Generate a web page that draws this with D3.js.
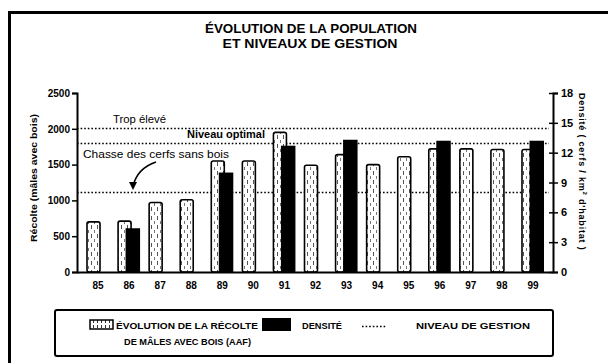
<!DOCTYPE html>
<html>
<head>
<meta charset="utf-8">
<script src="https://cdn.jsdelivr.net/npm/d3@7/dist/d3.min.js"></script>
<style>
  html, body { margin: 0; padding: 0; background: #fff; }
  svg { display: block; }
  text { font-family: "Liberation Sans", Arial, sans-serif; fill: #000; }
</style>
</head>
<body>
<svg id="chart" width="608" height="363"></svg>
<script>
// Years (labels on the x axis)
const years = ["85","86","87","88","89","90","91","92","93","94","95","96","97","98","99"];
// Harvest of antlered males (AAF), left axis
const harvest = [700, 710, 970, 1010, 1550, 1550, 1950, 1490, 1640, 1500, 1610, 1720, 1720, 1710, 1710];
// Deer density (deer / km² of habitat), right axis; null = not surveyed
const density = [null, 4.4, null, null, 10.0, null, 12.7, null, 13.3, null, null, 13.2, null, null, 13.2];
// Management levels (density)
const levelValues = [14.5, 13, 8];
const levelLabels = ["Trop élevé", "Niveau optimal", "Chasse des cerfs sans bois"];
// Axis ticks
const leftTicks = [0, 500, 1000, 1500, 2000, 2500];
const rightTicks = [0, 3, 6, 9, 12, 15, 18];

const svg = d3.select("#chart");
const plot = { left: 77, right: 553, top: 93, bottom: 272 };

const x = d3.scalePoint().domain(years).range([plot.left, plot.right]).padding(0.66);
const yL = d3.scaleLinear().domain([0, 2500]).range([plot.bottom, plot.top]);
const yR = d3.scaleLinear().domain([0, 18]).range([plot.bottom, plot.top]);

// Stippled fill for the harvest bars
const defs = svg.append("defs");
const pat = defs.append("pattern").attr("id", "stipple")
  .attr("patternUnits", "userSpaceOnUse").attr("width", 6).attr("height", 9);
pat.append("rect").attr("width", 6).attr("height", 9).attr("fill", "#fff");
pat.append("line").attr("x1", 1.5).attr("x2", 1.5).attr("y1", 0).attr("y2", 4)
  .attr("stroke", "#555").attr("stroke-width", 1);
pat.append("line").attr("x1", 4.5).attr("x2", 4.5).attr("y1", 5).attr("y2", 8)
  .attr("stroke", "#777").attr("stroke-width", 1);
const pat2 = defs.append("pattern").attr("id", "stippleSmall")
  .attr("patternUnits", "userSpaceOnUse").attr("width", 4).attr("height", 5);
pat2.append("rect").attr("width", 4).attr("height", 5).attr("fill", "#fff");
pat2.append("rect").attr("x", 1).attr("y", 0).attr("width", 1).attr("height", 3).attr("fill", "#333");

// Outer frame (runs off the bottom and right edges)
svg.append("path").attr("d", "M9.5,370 L9.5,12.5 L620,12.5")
  .attr("fill", "none").attr("stroke", "#000").attr("stroke-width", 3);

// Title
const title = svg.append("g").attr("font-weight", "bold").attr("font-size", 12.5).attr("text-anchor", "middle");
title.append("text").attr("x", 311).attr("y", 33).attr("textLength", 212)
  .attr("lengthAdjust", "spacingAndGlyphs").text("ÉVOLUTION DE LA POPULATION");
title.append("text").attr("x", 310).attr("y", 48).attr("textLength", 175)
  .attr("lengthAdjust", "spacingAndGlyphs").text("ET NIVEAUX DE GESTION");

// Management levels (dotted lines)
svg.append("g").selectAll("line").data(levelValues).join("line")
  .attr("x1", plot.left).attr("x2", plot.right - 4)
  .attr("y1", d => Math.round(yR(d)) + 0.5).attr("y2", d => Math.round(yR(d)) + 0.5)
  .attr("stroke", "#000").attr("stroke-width", 1.4).attr("stroke-dasharray", "1.6,2");

// Harvest bars
const bw = 13;
svg.append("g").selectAll("rect").data(harvest).join("rect")
  .attr("x", (d, i) => x(years[i]) - 10.5)
  .attr("y", d => yL(d))
  .attr("width", bw)
  .attr("height", d => plot.bottom - yL(d))
  .attr("rx", 2)
  .attr("fill", "url(#stipple)")
  .attr("stroke", "#000").attr("stroke-width", 1.6);

// Density bars
const dens = density.map((v, i) => ({ year: years[i], v })).filter(d => d.v !== null);
svg.append("g").selectAll("rect").data(dens).join("rect")
  .attr("x", d => x(d.year) - 3)
  .attr("y", d => yR(d.v))
  .attr("width", 14.5)
  .attr("height", d => plot.bottom - yR(d.v))
  .attr("fill", "#000");

// Level annotations
const ann = svg.append("g").attr("font-size", 10.5);
ann.append("text").attr("x", 113).attr("y", 123).attr("textLength", 53)
  .attr("lengthAdjust", "spacingAndGlyphs").text(levelLabels[0]);
ann.append("text").attr("x", 187).attr("y", 138).attr("font-weight", "bold")
  .attr("textLength", 78).attr("lengthAdjust", "spacingAndGlyphs").text(levelLabels[1]);
ann.append("text").attr("x", 83).attr("y", 158).attr("font-size", 11).attr("textLength", 146)
  .attr("lengthAdjust", "spacingAndGlyphs").text(levelLabels[2]);
// Curved arrow pointing at the lower level
svg.append("path").attr("d", "M156,162 C144,166 136,174 133,186")
  .attr("fill", "none").attr("stroke", "#000").attr("stroke-width", 1.6);
svg.append("path").attr("d", "M129,182 L133,190 L137,182 Z").attr("fill", "#000");

// Left axis
const axL = svg.append("g").attr("transform", `translate(${plot.left},0)`)
  .call(d3.axisLeft(yL).tickValues(leftTicks).tickSize(5).tickPadding(2).tickFormat(d3.format("d")));
axL.select(".domain").attr("stroke-width", 2);
axL.selectAll(".tick line").attr("stroke-width", 1.5);
axL.selectAll(".tick text").attr("font-size", 10).attr("font-weight", "bold")
  .style("font-family", "'Liberation Sans', Arial, sans-serif");

// Right axis
const axR = svg.append("g").attr("transform", `translate(${plot.right},0)`)
  .call(d3.axisRight(yR).tickValues(rightTicks).tickSize(5).tickPadding(3));
axR.select(".domain").attr("stroke-width", 2);
axR.selectAll(".tick line").attr("x1", -4).attr("stroke-width", 1.5);
axR.selectAll(".tick text").attr("font-size", 11).attr("font-weight", "bold")
  .style("font-family", "'Liberation Sans', Arial, sans-serif");

// Baseline and year labels
svg.append("line").attr("x1", plot.left).attr("x2", plot.right)
  .attr("y1", plot.bottom + 0.5).attr("y2", plot.bottom + 0.5)
  .attr("stroke", "#000").attr("stroke-width", 2.2);
const axB = svg.append("g").attr("transform", `translate(0,${plot.bottom})`)
  .call(d3.axisBottom(x).tickSize(0).tickPadding(10));
axB.select(".domain").remove();
axB.selectAll(".tick text").attr("font-size", 10).attr("font-weight", "bold")
  .style("font-family", "'Liberation Sans', Arial, sans-serif");

// Axis titles
svg.append("text").attr("transform", "translate(37,178) rotate(-90)")
  .attr("text-anchor", "middle").attr("font-size", 9).attr("font-weight", "bold")
  .attr("textLength", 128).attr("lengthAdjust", "spacingAndGlyphs")
  .text("Récolte (mâles avec bois)");
const rt = svg.append("text").attr("transform", "translate(579,93) rotate(90)")
  .attr("font-size", 9).attr("font-weight", "bold").attr("letter-spacing", 0.8);
rt.append("tspan").text("Densité ( cerfs / km");
rt.append("tspan").attr("dy", -4).attr("font-size", 6).text("2");
rt.append("tspan").attr("dy", 4).text("  d'habitat )");

// Legend
const lg = svg.append("g");
lg.append("rect").attr("x", 55).attr("y", 310).attr("width", 498).attr("height", 46).attr("rx", 2)
  .attr("fill", "#fff").attr("stroke", "#000").attr("stroke-width", 2);
lg.append("rect").attr("x", 90).attr("y", 320).attr("width", 23).attr("height", 9)
  .attr("fill", "url(#stippleSmall)").attr("stroke", "#000").attr("stroke-width", 1.5);
const lgText = lg.append("g").attr("font-size", 9).attr("font-weight", "bold");
lgText.append("text").attr("x", 116).attr("y", 329).attr("textLength", 142)
  .attr("lengthAdjust", "spacingAndGlyphs").text("ÉVOLUTION DE LA RÉCOLTE");
lgText.append("text").attr("x", 124).attr("y", 345).attr("textLength", 127)
  .attr("lengthAdjust", "spacingAndGlyphs").text("DE MÂLES AVEC BOIS (AAF)");
lg.append("rect").attr("x", 262).attr("y", 318).attr("width", 29).attr("height", 13).attr("fill", "#000");
lgText.append("text").attr("x", 302).attr("y", 329).attr("textLength", 40)
  .attr("lengthAdjust", "spacingAndGlyphs").text("DENSITÉ");
lg.append("line").attr("x1", 362).attr("x2", 387).attr("y1", 326.5).attr("y2", 326.5)
  .attr("stroke", "#000").attr("stroke-width", 1.4).attr("stroke-dasharray", "1.6,2");
lgText.append("text").attr("x", 416).attr("y", 329).attr("textLength", 114)
  .attr("lengthAdjust", "spacingAndGlyphs").text("NIVEAU DE GESTION");
</script>
</body>
</html>
